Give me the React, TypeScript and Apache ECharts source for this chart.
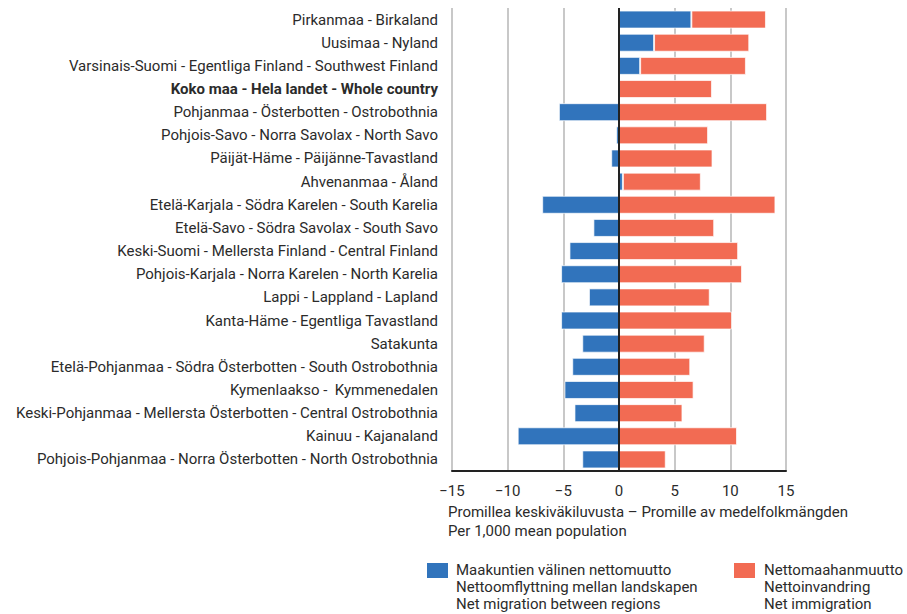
import React, { useEffect, useRef } from "react";
import * as echarts from "echarts";

const categories = [
  "Pirkanmaa - Birkaland",
  "Uusimaa - Nyland",
  "Varsinais-Suomi - Egentliga Finland - Southwest Finland",
  "Koko maa - Hela landet - Whole country",
  "Pohjanmaa - Österbotten - Ostrobothnia",
  "Pohjois-Savo - Norra Savolax - North Savo",
  "Päijät-Häme - Päijänne-Tavastland",
  "Ahvenanmaa - Åland",
  "Etelä-Karjala - Södra Karelen - South Karelia",
  "Etelä-Savo - Södra Savolax - South Savo",
  "Keski-Suomi - Mellersta Finland - Central Finland",
  "Pohjois-Karjala - Norra Karelen - North Karelia",
  "Lappi - Lappland - Lapland",
  "Kanta-Häme - Egentliga Tavastland",
  "Satakunta",
  "Etelä-Pohjanmaa - Södra Österbotten - South Ostrobothnia",
  "Kymenlaakso -  Kymmenedalen",
  "Keski-Pohjanmaa - Mellersta Österbotten - Central Ostrobothnia",
  "Kainuu - Kajanaland",
  "Pohjois-Pohjanmaa - Norra Österbotten - North Ostrobothnia",
];

const netMigrationBetweenRegions = [
  6.5, 3.15, 1.9, 0, -5.4, -0.25, -0.7, 0.35, -6.9, -2.3,
  -4.45, -5.2, -2.7, -5.2, -3.3, -4.2, -4.9, -4.0, -9.1, -3.3,
];

const netImmigration = [
  6.7, 8.55, 9.5, 8.35, 13.3, 8.0, 8.4, 7.0, 14.05, 8.55,
  10.7, 11.05, 8.15, 10.15, 7.7, 6.4, 6.7, 5.7, 10.6, 4.2,
];

const xTicks = [-15, 15, 5];

const seriesNames = [
  "Maakuntien välinen nettomuutto\nNettoomflyttning mellan landskapen\nNet migration between regions",
  "Nettomaahanmuutto\nNettoinvandring\nNet immigration",
];

const axisTitle = [
  "Promillea keskiväkiluvusta – Promille av medelfolkmängden",
  "Per 1,000 mean population",
];

const BLUE = "#3174bc";
const ORANGE = "#f26b53";
const TEXT = "#2b2b2b";
const FONT = "Roboto, 'Noto Sans', sans-serif";

export default function App() {
  const ref = useRef<HTMLDivElement>(null);

  useEffect(() => {
    if (!ref.current) return;
    const chart = echarts.init(ref.current, null, { renderer: "svg" });
    const boldCat = "Koko maa - Hela landet - Whole country";
    chart.setOption({
      animation: false,
      textStyle: { fontFamily: FONT },
      grid: { left: 452, right: 121, top: 8, bottom: 143, containLabel: false },
      legend: { show: false },
      xAxis: {
        type: "value",
        min: xTicks[0],
        max: xTicks[1],
        interval: xTicks[2],
        axisLine: { show: true, onZero: false, lineStyle: { color: "#222", width: 2 } },
        axisTick: { show: false },
        splitLine: { show: true, lineStyle: { color: "#c8c8c8", width: 2 } },
        axisLabel: {
          color: TEXT,
          fontSize: 15,
          fontFamily: FONT,
          margin: 12,
          formatter: (v: number) => (v < 0 ? "\u2212" + Math.abs(v) : String(v)),
        },
      },
      yAxis: {
        type: "category",
        data: categories,
        inverse: true,
        axisLine: { show: false },
        axisTick: { show: false },
        splitLine: { show: false },
        axisLabel: {
          color: TEXT,
          fontSize: 15,
          fontFamily: FONT,
          margin: 14,
          formatter: (v: string) => (v === boldCat ? "{b|" + v + "}" : v),
          rich: {
            b: { fontWeight: "bold", fontSize: 15, color: TEXT, fontFamily: FONT },
          },
        },
      },
      series: [
        {
          name: seriesNames[0],
          type: "bar",
          stack: "total",
          data: netMigrationBetweenRegions,
          barWidth: 18,
          itemStyle: { color: BLUE, borderColor: "rgba(255,255,255,0.7)", borderWidth: 1 },
          markLine: {
            silent: true,
            symbol: "none",
            label: { show: false },
            lineStyle: { color: "#222", width: 2, type: "solid" },
            data: [{ xAxis: 0 }],
          },
        },
        {
          name: seriesNames[1],
          type: "bar",
          stack: "total",
          data: netImmigration,
          barWidth: 18,
          itemStyle: { color: ORANGE, borderColor: "rgba(255,255,255,0.7)", borderWidth: 1 },
        },
      ],
      graphic: [
        {
          type: "text",
          left: 448,
          top: 502,
          style: {
            text: axisTitle.join("\n"),
            fill: TEXT,
            font: `15px ${FONT}`,
            lineHeight: 19,
          },
        },
        {
          type: "rect",
          shape: { x: 427, y: 563, width: 21, height: 15 },
          style: { fill: BLUE },
        },
        {
          type: "text",
          left: 456,
          top: 561,
          style: {
            text: seriesNames[0],
            fill: TEXT,
            font: `15px ${FONT}`,
            lineHeight: 17,
          },
        },
        {
          type: "rect",
          shape: { x: 734, y: 563, width: 21, height: 15 },
          style: { fill: ORANGE },
        },
        {
          type: "text",
          left: 764,
          top: 561,
          style: {
            text: seriesNames[1],
            fill: TEXT,
            font: `15px ${FONT}`,
            lineHeight: 17,
          },
        },
      ],
    });
    return () => chart.dispose();
  }, []);

  return <div ref={ref} style={{ width: 907, height: 614, position: "absolute", left: 0, top: 0 }} />;
}
